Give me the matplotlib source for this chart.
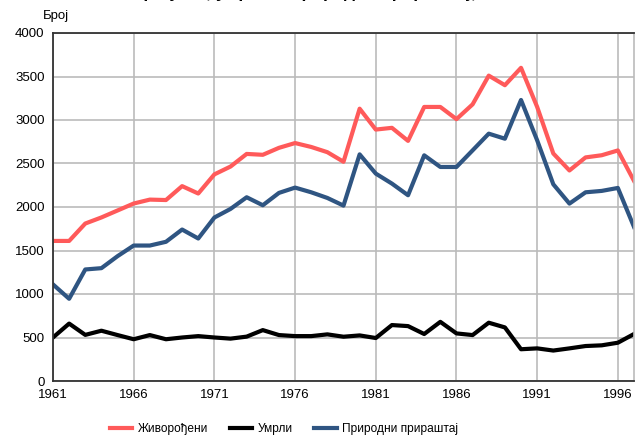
import matplotlib
matplotlib.use("Agg")
import matplotlib.pyplot as plt

# podaci očitani sa grafikona
godine = list(range(1961, 1998))
zivorodjeni = [1610, 1610, 1810, 1880, 1960, 2040, 2085, 2080, 2240, 2155,
               2375, 2465, 2610, 2600, 2680, 2735, 2690, 2630, 2520, 3130,
               2890, 2910, 2760, 3150, 3150, 3010, 3180, 3510, 3400, 3600,
               3150, 2615, 2420, 2570, 2595, 2650, 2300]
umrli = [500, 660, 530, 578, 528, 480, 528, 480, 500, 516,
         500, 487, 510, 585, 528, 516, 516, 536, 509, 524,
         494, 643, 631, 540, 680, 547, 528, 670, 616, 365,
         375, 350, 375, 402, 410, 440, 540]
prirastaj = [1110, 945, 1282, 1297, 1435, 1557, 1557, 1600, 1741, 1638,
             1879, 1978, 2112, 2020, 2162, 2223, 2169, 2104, 2016, 2605,
             2384, 2269, 2135, 2594, 2460, 2460, 2651, 2843, 2785, 3230,
             2766, 2261, 2039, 2169, 2185, 2219, 1771]

naslov = "Живорођени, умрли и природни прираштај, 1961-1997"
xticks = [1961, 1966, 1971, 1976, 1981, 1986, 1991, 1996]

plt.rcParams['font.family'] = ['Liberation Sans', 'DejaVu Sans']

fig = plt.figure(figsize=(6.35, 4.37), dpi=100)
ax = fig.add_axes([53/635, 1 - 381/437, 581/635, 348/437])

ax.plot(godine, zivorodjeni, color='#ff5a5a', linewidth=3, label='Живорођени')
ax.plot(godine, umrli, color='black', linewidth=3, label='Умрли')
ax.plot(godine, prirastaj, color='#2f5582', linewidth=3, label='Природни прираштај')

ax.set_xlim(1961, 1997)
ax.set_ylim(0, 4000)
ax.set_xticks(xticks)
ax.set_yticks(range(0, 4001, 500))
ax.tick_params(labelsize=9.5, length=0, pad=6)
ax.grid(True, color='#bbbbbb', linewidth=1.2)
ax.set_axisbelow(True)
for s in ['left', 'bottom', 'top']:
    ax.spines[s].set_color('#333333')
    ax.spines[s].set_linewidth(1.3)
ax.spines['right'].set_color('#bbbbbb')
ax.spines['right'].set_linewidth(1.2)

fig.text(43/635, 1 - 19/437, 'Број', fontsize=9.5, ha='left', va='baseline')
# naslov je u originalu odsečen na vrhu
fig.text(330/635, 1 + 2/437, naslov, fontsize=12.5, fontweight='bold',
         ha='center', va='baseline')

fig.legend(loc='center', bbox_to_anchor=(284/635, 1 - 429/437), ncol=3, frameon=False,
           fontsize=8.6, handlelength=1.9, columnspacing=1.8, handletextpad=0.45)

fig.savefig('out.png', dpi=100)
